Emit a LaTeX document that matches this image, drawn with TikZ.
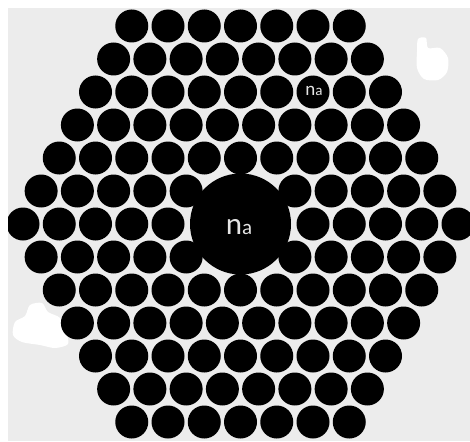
\documentclass[tikz,border=0pt]{standalone}
\usepackage{fontspec}
\setmainfont{Carlito}
\usepackage{tikz}
\usetikzlibrary{positioning}

\definecolor{bggray}{RGB}{236,236,236}
\definecolor{txtgray}{RGB}{228,228,228}
\tikzset{
  rod/.style={fill=black},
  corelabel/.style={text=txtgray, inner sep=0pt, font=\fontsize{31}{32}\selectfont},
  rodlabel/.style={text=txtgray, inner sep=0pt, font=\fontsize{19}{20}\selectfont}
}

\begin{document}
\begin{tikzpicture}[x=1pt,y=-1pt]
    % Frame and background
    \clip (0,0) rectangle (470,441);
    \fill[white] (0,0) rectangle (470,441);
    \fill[bggray] (8,8) rectangle (470,441);
    
    % White smudges
    \fill[white] plot[smooth cycle] coordinates {(418,39) (426,38) (428,48) (440,48) (448,58) (447,72) (438,80) (424,79) (417,68) (417,52)};
    \fill[white] plot[smooth cycle] coordinates {(30,305) (42,303) (48,312) (60,318) (66,332) (68,344) (55,348) (40,345) (22,342) (13,335) (15,322) (25,316)};
    
    \begin{scope}
    \clip (8,8) rectangle (470,441);
    % Hexagonal lattice of rods
    \foreach \r in {0,...,12}{
        \pgfmathtruncatemacro\nrods{13-abs(\r-6)}
        \foreach \k in {1,...,\nrods}{
            \pgfmathsetmacro\cx{240.5+(\k-(\nrods+1)/2)*36.25}
            \pgfmathsetmacro\cy{26+\r*33}
            \pgfmathtruncatemacro\incore{veclen(\cx-240.5,\cy-224)<45}
            \ifnum\incore=0
                \fill[rod] (\cx,\cy) circle (16.5);
            \fi
        }
    }
    % Central core
    \coordinate (C) at (240.5,224);
    \fill[rod] (C) circle (50.5);
    \end{scope}
    
    % Labels
    \node[corelabel] (core) at (239,227) {n{\fontsize{21}{22}\selectfont a}};
    \node[rodlabel] (rodidx) at (314,91) {n{\fontsize{15}{16}\selectfont a}};
\end{tikzpicture}
\end{document}
